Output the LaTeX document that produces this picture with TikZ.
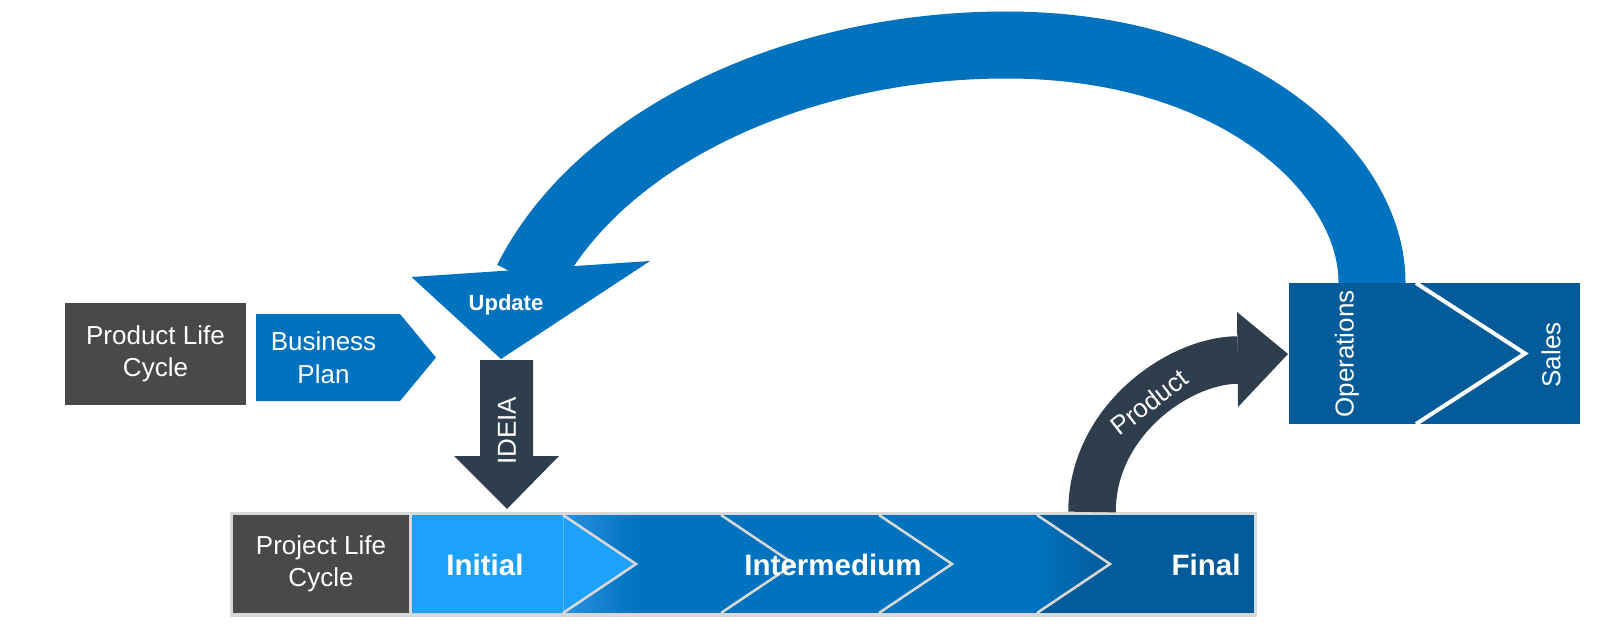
\documentclass[tikz,border=0pt]{standalone}
\usepackage{fontspec}
\setmainfont{Liberation Sans}
\definecolor{boxgray}{RGB}{74,73,72}
\definecolor{midblue}{RGB}{0,114,190}
\definecolor{lightblue}{RGB}{29,161,250}
\definecolor{fadeblue}{RGB}{42,146,226}
\definecolor{darkblue}{RGB}{4,91,153}
\definecolor{slate}{RGB}{46,62,77}
\definecolor{framegray}{RGB}{217,217,217}
\begin{document}
\begin{tikzpicture}[x=1pt, y=-1pt,
  txt/.style={text=white, inner sep=0pt, align=center, font=\fontsize{26}{32.5}\selectfont},
  bold/.style={text=white, inner sep=0pt, font=\fontsize{29.5}{34}\selectfont\bfseries},
  chev/.style={draw=framegray, line width=2.5pt}]
  \useasboundingbox (0,0) rectangle (1608,634);
  % update loop, under the operations box
  \draw[midblue, line width=67pt] (1372,300) -- (1372,282) .. controls (1372,175) and (1240,45) .. (1006,45) .. controls (800,45) and (600,135) .. (527,280);
  \fill[midblue] (411.5,277) -- (650,261) -- (501,359) -- cycle;
  \node[bold, font=\fontsize{22}{26}\selectfont\bfseries] (upd) at (506,305) {Update};
  % product life cycle
  \node[txt, fill=boxgray, minimum width=181pt, minimum height=102pt] (plc) at (155.5,354) {Product Life\\Cycle};
  \fill[midblue] (256,314) -- (400,314) -- (436,357.5) -- (400,401) -- (256,401) -- cycle;
  \node[txt] (bp) at (323.5,357.5) {Business\\Plan};
  % ideia
  \fill[slate] (480,360) -- (533,360) -- (533,456) -- (559,456) -- (507,509) -- (454,456) -- (480,456) -- cycle;
  \node[txt, rotate=90] (idea) at (507,431) {IDEIA};
  % project life cycle bar
  \fill[framegray] (230,512) rectangle (1257,617);
  \node[txt, fill=boxgray, minimum width=176pt, minimum height=98pt] (prj) at (321,564) {Project Life\\Cycle};
  \fill[midblue] (412,515) rectangle (1254,613);
  \foreach \i [evaluate=\i as \p using 100-\i*100/24] in {0,...,24}
    \fill[fadeblue!\p!midblue] (563+\i*3,515) rectangle (566.5+\i*3,613);
  \fill[darkblue] (1037,515) rectangle (1254,613);
  \shade[left color=midblue, right color=darkblue] (1037,515) -- (1110,564) -- (1037,613) -- cycle;
  \fill[lightblue] (412,515) -- (563,515) -- (637,564) -- (563,613) -- (412,613) -- cycle;
  \draw[lightblue!75!white, line width=0.8pt] (563,515) -- (563,613);
  \foreach \x in {563,721,879,1037}
    \draw[chev] (\x,515) -- (\x+73,564) -- (\x,613);
  \node[bold] (ini) at (485,565) {Initial};
  \node[bold] (mid) at (833,565) {Intermedium};
  \node[bold] (fin) at (1206,565) {Final};
  % product
  \draw[slate, line width=47.5pt] (1092,512) .. controls (1092,420) and (1180,360) .. (1238,360);
  \fill[slate] (1237,312) -- (1288,354) -- (1238,407) -- cycle;
  \node[txt, rotate=38] (prod) at (1149,402) {Product};
  % operations / sales
  \node[fill=darkblue, minimum width=291pt, minimum height=141pt, inner sep=0pt] (ops) at (1434.5,353.5) {};
  \draw[white, line width=4pt] (1416,283) -- (1525,353.5) -- (1416,424);
  \node[txt, rotate=90] (opr) at (1347,354) {Operations};
  \node[txt, rotate=90] (sal) at (1551,355) {Sales};
\end{tikzpicture}
\end{document}
